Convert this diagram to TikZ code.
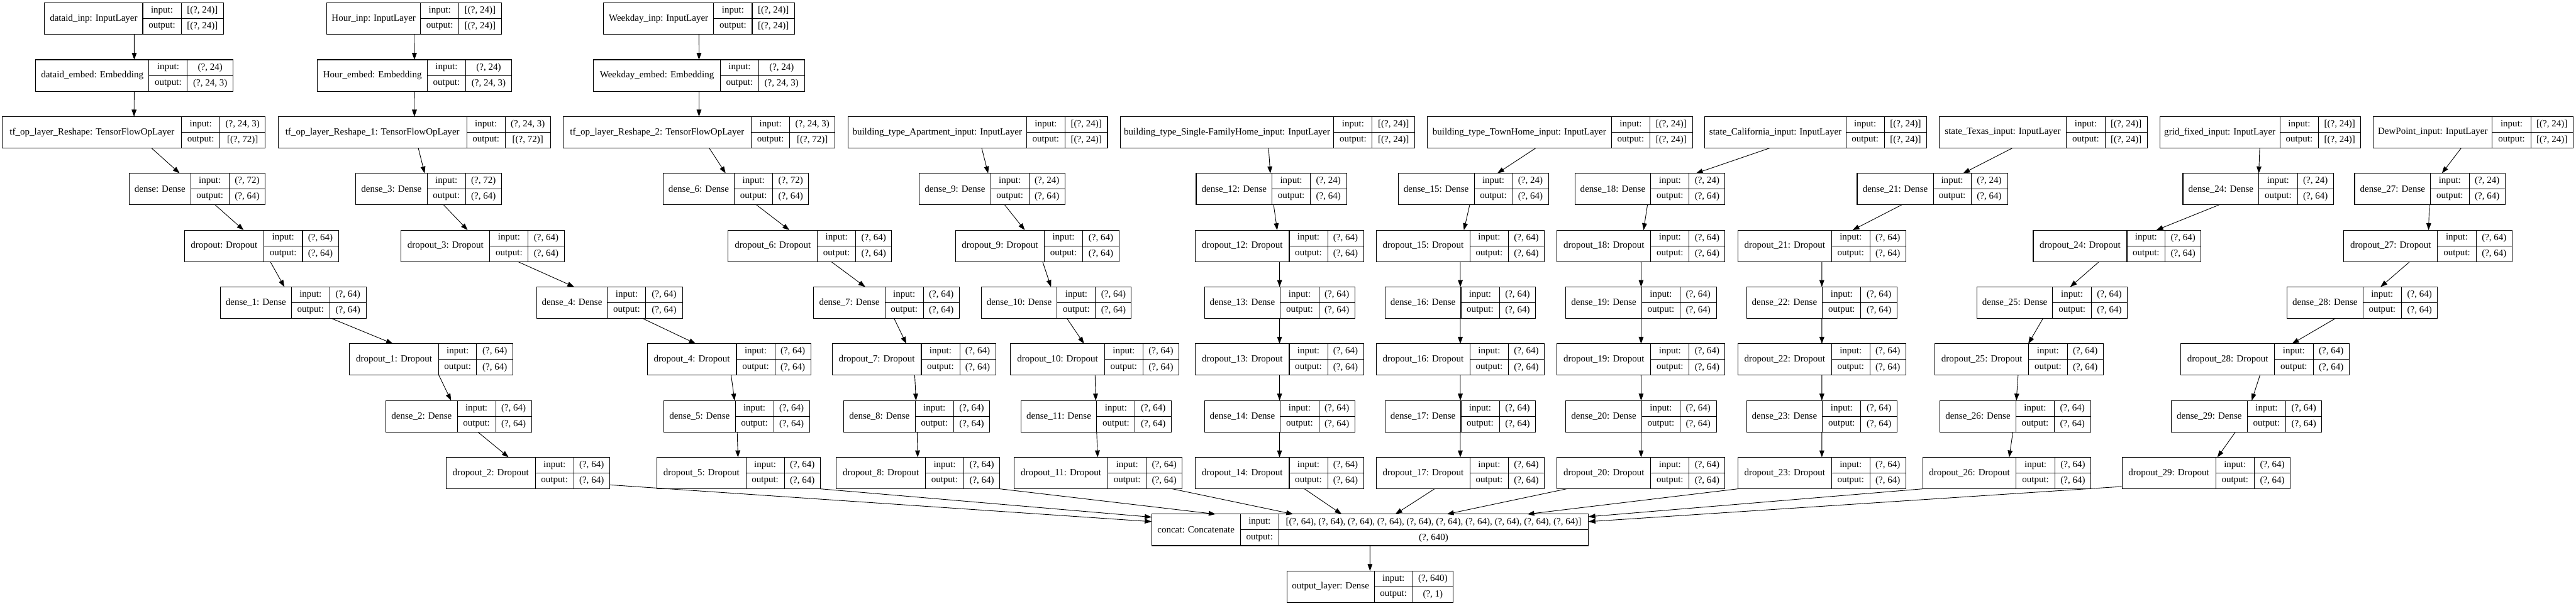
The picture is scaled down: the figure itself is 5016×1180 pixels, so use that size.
\documentclass[tikz,border=0pt]{standalone}
\usepackage{fontspec}
\setmainfont{Liberation Serif}
\usetikzlibrary{arrows.meta}
\tikzset{
 box/.style={draw, line width=0.65pt, inner sep=0pt, outer sep=0pt, rectangle},
 cell/.style={line width=0.65pt},
 txt/.style={inner sep=0pt, font=\fontsize{9.2}{11}\selectfont},
 arr/.style={-{Triangle[length=6.7pt,width=4.7pt]}, line width=0.55pt},
}
\newcommand{\rec}[9]{%
 \pgfmathsetmacro\ytop{5.7+110.65*#2}%
 \pgfmathsetmacro\ybot{\ytop+61.4}%
 \pgfmathsetmacro\ymid{\ytop+30.7}%
 \pgfmathsetmacro\yin{\ytop+15.35}%
 \pgfmathsetmacro\yout{\ytop+46.05}%
 \pgfmathsetmacro\bw{(#6-#3)*0.5}%
 \node[box, minimum width=\bw pt, minimum height=30.7pt, anchor=north west] (#1) at (#3,\ytop) {};
 \draw[cell] (#4,\ytop) -- (#4,\ybot) (#5,\ytop) -- (#5,\ybot) (#4,\ymid) -- (#6,\ymid);
 \node[txt] (#1-l) at ({(#3+#4)/2},\ymid) {#7};
 \node[txt] (#1-i) at ({(#4+#5)/2},\yin) {input:};
 \node[txt] (#1-o) at ({(#4+#5)/2},\yout) {output:};
 \node[txt] (#1-iv) at ({(#5+#6)/2},\yin) {#8};
 \node[txt] (#1-ov) at ({(#5+#6)/2},\yout) {#9};
}
\begin{document}
\begin{tikzpicture}[x=0.5pt,y=-0.5pt]
\fill[white] (0,0) rectangle (5016,1180);
\useasboundingbox (0,0) rectangle (5016,1180);
% column A
\rec{ain}{0}{86.8}{278}{352.8}{435.5}{dataid\_inp: InputLayer}{[(?, 24)]}{[(?, 24)]}
\rec{aemb}{1}{69.1}{290.1}{364.8}{454}{dataid\_embed: Embedding}{(?, 24)}{(?, 24, 3)}
\rec{ares}{2}{4.8}{353.6}{428.3}{516.7}{tf\_op\_layer\_Reshape: TensorFlowOpLayer}{(?, 24, 3)}{[(?, 72)]}
\rec{dense0}{3}{251.5}{371.3}{446}{516.7}{dense: Dense}{(?, 72)}{(?, 64)}
\rec{drop0}{4}{359.2}{513.5}{589}{659}{dropout: Dropout}{(?, 64)}{(?, 64)}
\rec{dense1}{5}{429.1}{567.3}{642.1}{712.8}{dense\_1: Dense}{(?, 64)}{(?, 64)}
\rec{drop1}{6}{680.6}{854.2}{928.2}{998.9}{dropout\_1: Dropout}{(?, 64)}{(?, 64)}
\rec{dense2}{7}{751.4}{890.4}{965.1}{1035}{dense\_2: Dense}{(?, 64)}{(?, 64)}
\rec{drop2}{8}{868.7}{1042.3}{1117}{1186.9}{dropout\_2: Dropout}{(?, 64)}{(?, 64)}
% column B
\rec{bin}{0}{636.4}{818.9}{893.6}{976.4}{Hour\_inp: InputLayer}{[(?, 24)]}{[(?, 24)]}
\rec{bemb}{1}{618}{832.5}{906.4}{996.5}{Hour\_embed: Embedding}{(?, 24)}{(?, 24, 3)}
\rec{bres}{2}{541.6}{908.9}{983.6}{1072}{tf\_op\_layer\_Reshape\_1: TensorFlowOpLayer}{(?, 24, 3)}{[(?, 72)]}
\rec{dense3}{3}{692.7}{831.7}{906.4}{976.4}{dense\_3: Dense}{(?, 72)}{(?, 64)}
\rec{drop3}{4}{781.1}{953.9}{1028.6}{1098.5}{dropout\_3: Dropout}{(?, 64)}{(?, 64)}
\rec{dense4}{5}{1044.7}{1182.9}{1257.6}{1328.8}{dense\_4: Dense}{(?, 64)}{(?, 64)}
\rec{drop4}{6}{1260.4}{1434}{1508.8}{1578.7}{dropout\_4: Dropout}{(?, 64)}{(?, 64)}
\rec{dense5}{7}{1292.6}{1431.6}{1506.3}{1576.3}{dense\_5: Dense}{(?, 64)}{(?, 64)}
\rec{drop5}{8}{1279}{1452.5}{1527.2}{1597.2}{dropout\_5: Dropout}{(?, 64)}{(?, 64)}
% column C
\rec{cin}{0}{1174.8}{1389.8}{1464.6}{1547.3}{Weekday\_inp: InputLayer}{[(?, 24)]}{[(?, 24)]}
\rec{cemb}{1}{1155.6}{1402.7}{1477.4}{1566.6}{Weekday\_embed: Embedding}{(?, 24)}{(?, 24, 3)}
\rec{cres}{2}{1096.1}{1463}{1537.7}{1626.1}{tf\_op\_layer\_Reshape\_2: TensorFlowOpLayer}{(?, 24, 3)}{[(?, 72)]}
\rec{dense6}{3}{1291}{1430}{1504.7}{1574.7}{dense\_6: Dense}{(?, 72)}{(?, 64)}
\rec{drop6}{4}{1418}{1591.5}{1666.3}{1736.2}{dropout\_6: Dropout}{(?, 64)}{(?, 64)}
\rec{dense7}{5}{1584.3}{1723.3}{1798}{1868}{dense\_7: Dense}{(?, 64)}{(?, 64)}
\rec{drop7}{6}{1620.5}{1794}{1868.8}{1938.7}{dropout\_7: Dropout}{(?, 64)}{(?, 64)}
\rec{dense8}{7}{1643}{1782}{1856.7}{1927.4}{dense\_8: Dense}{(?, 64)}{(?, 64)}
\rec{drop8}{8}{1628.5}{1802}{1876.8}{1946.7}{dropout\_8: Dropout}{(?, 64)}{(?, 64)}
% column D
\rec{din}{2}{1651}{1999}{2073.7}{2156.5}{building\_type\_Apartment\_input: InputLayer}{[(?, 24)]}{[(?, 24)]}
\rec{dense9}{3}{1790}{1929}{2003.8}{2073.7}{dense\_9: Dense}{(?, 24)}{(?, 64)}
\rec{drop9}{4}{1860.7}{2033.5}{2108.2}{2179}{dropout\_9: Dropout}{(?, 64)}{(?, 64)}
\rec{dense10}{5}{1910.6}{2058.4}{2133.2}{2203}{dense\_10: Dense}{(?, 64)}{(?, 64)}
\rec{drop10}{6}{1967.6}{2150.8}{2225.6}{2295.5}{dropout\_10: Dropout}{(?, 64)}{(?, 64)}
\rec{dense11}{7}{1987.7}{2135.6}{2210.3}{2281}{dense\_11: Dense}{(?, 64)}{(?, 64)}
\rec{drop11}{8}{1974.8}{2157.3}{2232}{2302}{dropout\_11: Dropout}{(?, 64)}{(?, 64)}
% column E
\rec{ein}{2}{2181.4}{2597.2}{2672}{2754.7}{building\_type\_Single-FamilyHome\_input: InputLayer}{[(?, 24)]}{[(?, 24)]}
\rec{dense12}{3}{2329.2}{2477}{2551.4}{2622.1}{dense\_12: Dense}{(?, 24)}{(?, 64)}
\rec{drop12}{4}{2327.6}{2510.4}{2585.2}{2655}{dropout\_12: Dropout}{(?, 64)}{(?, 64)}
\rec{dense13}{5}{2345.3}{2493}{2568.3}{2638.2}{dense\_13: Dense}{(?, 64)}{(?, 64)}
\rec{drop13}{6}{2327.6}{2510.4}{2585.2}{2655}{dropout\_13: Dropout}{(?, 64)}{(?, 64)}
\rec{dense14}{7}{2345.3}{2493}{2568.3}{2638.2}{dense\_14: Dense}{(?, 64)}{(?, 64)}
\rec{drop14}{8}{2327.6}{2510.4}{2585.2}{2655}{dropout\_14: Dropout}{(?, 64)}{(?, 64)}
% column F
\rec{fin}{2}{2778.8}{3138}{3212.8}{3295.6}{building\_type\_TownHome\_input: InputLayer}{[(?, 24)]}{[(?, 24)]}
\rec{dense15}{3}{2722.6}{2870.5}{2945.2}{3015}{dense\_15: Dense}{(?, 24)}{(?, 64)}
\rec{drop15}{4}{2680}{2862.4}{2937.2}{3007}{dropout\_15: Dropout}{(?, 64)}{(?, 64)}
\rec{dense16}{5}{2696.9}{2844.7}{2919.5}{2990.2}{dense\_16: Dense}{(?, 64)}{(?, 64)}
\rec{drop16}{6}{2680}{2862.4}{2937.2}{3007}{dropout\_16: Dropout}{(?, 64)}{(?, 64)}
\rec{dense17}{7}{2696.9}{2844.7}{2919.5}{2990.2}{dense\_17: Dense}{(?, 64)}{(?, 64)}
\rec{drop17}{8}{2680}{2862.4}{2937.2}{3007}{dropout\_17: Dropout}{(?, 64)}{(?, 64)}
% column G
\rec{gin}{2}{3319.7}{3594.5}{3669.2}{3752}{state\_California\_input: InputLayer}{[(?, 24)]}{[(?, 24)]}
\rec{dense18}{3}{3066.5}{3214.4}{3289.1}{3359}{dense\_18: Dense}{(?, 24)}{(?, 64)}
\rec{drop18}{4}{3032}{3214.4}{3289.1}{3359}{dropout\_18: Dropout}{(?, 64)}{(?, 64)}
\rec{dense19}{5}{3048.9}{3196.7}{3271.4}{3342.2}{dense\_19: Dense}{(?, 64)}{(?, 64)}
\rec{drop19}{6}{3032}{3214.4}{3289.1}{3359}{dropout\_19: Dropout}{(?, 64)}{(?, 64)}
\rec{dense20}{7}{3048.9}{3196.7}{3271.4}{3342.2}{dense\_20: Dense}{(?, 64)}{(?, 64)}
\rec{drop20}{8}{3032}{3214.4}{3289.1}{3359}{dropout\_20: Dropout}{(?, 64)}{(?, 64)}
% column H
\rec{hin}{2}{3775.8}{4023.7}{4098.8}{4181.2}{state\_Texas\_input: InputLayer}{[(?, 24)]}{[(?, 24)]}
\rec{dense21}{3}{3616.2}{3764.5}{3838}{3909}{dense\_21: Dense}{(?, 24)}{(?, 64)}
\rec{drop21}{4}{3384}{3566.4}{3641.1}{3711}{dropout\_21: Dropout}{(?, 64)}{(?, 64)}
\rec{dense22}{5}{3400.8}{3548.7}{3623.4}{3694.1}{dense\_22: Dense}{(?, 64)}{(?, 64)}
\rec{drop22}{6}{3384}{3566.4}{3641.1}{3711}{dropout\_22: Dropout}{(?, 64)}{(?, 64)}
\rec{dense23}{7}{3400.8}{3548.7}{3623.4}{3694.1}{dense\_23: Dense}{(?, 64)}{(?, 64)}
\rec{drop23}{8}{3384}{3566.4}{3641.1}{3711}{dropout\_23: Dropout}{(?, 64)}{(?, 64)}
% column I
\rec{iin}{2}{4205.4}{4439.5}{4514.6}{4597}{grid\_fixed\_input: InputLayer}{[(?, 24)]}{[(?, 24)]}
\rec{dense24}{3}{4250.6}{4398.4}{4473.5}{4543.7}{dense\_24: Dense}{(?, 24)}{(?, 64)}
\rec{drop24}{4}{3959.1}{4141.6}{4215.9}{4286}{dropout\_24: Dropout}{(?, 64)}{(?, 64)}
\rec{dense25}{5}{3849.3}{3997}{4072.2}{4142.4}{dense\_25: Dense}{(?, 64)}{(?, 64)}
\rec{drop25}{6}{3767.8}{3950.2}{4025.3}{4095.6}{dropout\_25: Dropout}{(?, 64)}{(?, 64)}
\rec{dense26}{7}{3777.5}{3925.2}{4000.3}{4070.6}{dense\_26: Dense}{(?, 64)}{(?, 64)}
\rec{drop26}{8}{3744}{3926}{4001.1}{4071.4}{dropout\_26: Dropout}{(?, 64)}{(?, 64)}
% column J
\rec{jin}{2}{4621.2}{4853}{4928}{5010.4}{DewPoint\_input: InputLayer}{[(?, 24)]}{[(?, 24)]}
\rec{dense27}{3}{4584.9}{4732.6}{4807.8}{4878}{dense\_27: Dense}{(?, 24)}{(?, 64)}
\rec{drop27}{4}{4563.9}{4746.4}{4821.5}{4891.7}{dropout\_27: Dropout}{(?, 64)}{(?, 64)}
\rec{dense28}{5}{4453.3}{4601}{4676.1}{4746.4}{dense\_28: Dense}{(?, 64)}{(?, 64)}
\rec{drop28}{6}{4246.6}{4429}{4504.1}{4574.4}{dropout\_28: Dropout}{(?, 64)}{(?, 64)}
\rec{dense29}{7}{4228}{4375.8}{4450.9}{4521.1}{dense\_29: Dense}{(?, 64)}{(?, 64)}
\rec{drop29}{8}{4131.9}{4314.4}{4389.5}{4459.7}{dropout\_29: Dropout}{(?, 64)}{(?, 64)}
% concat and output
\rec{concat}{9}{2242.4}{2415.2}{2490}{3093}{concat: Concatenate}{[(?, 64), (?, 64), (?, 64), (?, 64), (?, 64), (?, 64), (?, 64), (?, 64), (?, 64), (?, 64)]}{(?, 640)}
\rec{outl}{10}{2505.6}{2676}{2750.7}{2829.5}{output\_layer: Dense}{(?, 640)}{(?, 1)}
% edges
\foreach \a/\b in {ain/aemb, aemb/ares, ares/dense0, dense0/drop0, drop0/dense1, dense1/drop1, drop1/dense2, dense2/drop2,
 bin/bemb, bemb/bres, bres/dense3, dense3/drop3, drop3/dense4, dense4/drop4, drop4/dense5, dense5/drop5,
 cin/cemb, cemb/cres, cres/dense6, dense6/drop6, drop6/dense7, dense7/drop7, drop7/dense8, dense8/drop8,
 din/dense9, dense9/drop9, drop9/dense10, dense10/drop10, drop10/dense11, dense11/drop11,
 ein/dense12, dense12/drop12, drop12/dense13, dense13/drop13, drop13/dense14, dense14/drop14,
 fin/dense15, dense15/drop15, drop15/dense16, dense16/drop16, drop16/dense17, dense17/drop17,
 gin/dense18, dense18/drop18, drop18/dense19, dense19/drop19, drop19/dense20, dense20/drop20,
 hin/dense21, dense21/drop21, drop21/dense22, dense22/drop22, drop22/dense23, dense23/drop23,
 iin/dense24, dense24/drop24, drop24/dense25, dense25/drop25, drop25/dense26, dense26/drop26,
 jin/dense27, dense27/drop27, drop27/dense28, dense28/drop28, drop28/dense29, dense29/drop29,
 concat/outl}
 \draw[arr] (\a) -- (\b);
\draw[arr] ([yshift=3.9pt]drop2.south east) -- ([yshift=-7.3pt]concat.north west);
\draw[arr] (drop5.south east) -- ([yshift=-2.9pt]concat.north west);
\draw[arr] (drop8.south east) -- ([xshift=62.3pt]concat.north west);
\draw[arr] ([xshift=-9.7pt]drop11.south east) -- ([xshift=137.8pt]concat.north west);
\draw[arr] ([xshift=-57.5pt]drop14.south east) -- ([xshift=185pt]concat.north west);
\draw[arr] ([xshift=56.7pt]drop17.south west) -- ([xshift=237.3pt]concat.north west);
\draw[arr] ([xshift=9.3pt]drop20.south west) -- ([xshift=287.5pt]concat.north west);
\draw[arr] (drop23.south west) -- ([xshift=365.8pt]concat.north west);
\draw[arr] (drop26.south west) -- ([yshift=-2.5pt]concat.north east);
\draw[arr] ([yshift=2.25pt]drop29.south west) -- ([yshift=-7.3pt]concat.north east);
\end{tikzpicture}
\end{document}
